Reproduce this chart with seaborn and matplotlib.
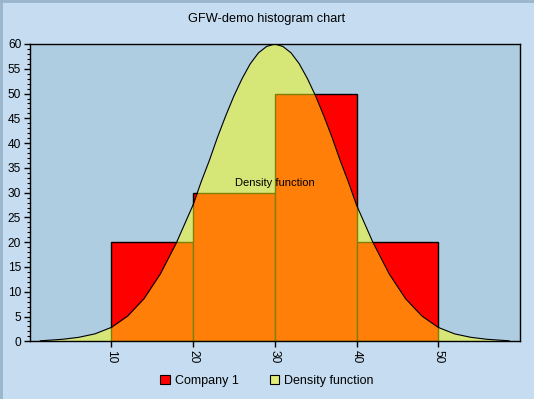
import matplotlib
matplotlib.use("Agg")
import matplotlib.pyplot as plt
from matplotlib.patches import Patch
from matplotlib.lines import Line2D
from matplotlib.ticker import MultipleLocator
import seaborn as sns
import numpy as np

# ---- data ----
bin_edges = [10, 20, 30, 40, 50]
bin_centers = [15, 25, 35, 45]
counts = [20, 30, 50, 20]

dens_x = [1.3, 4, 6, 8, 10, 12, 14, 16, 18, 20, 21, 22, 23, 24, 25, 26, 27, 28, 29, 30,
          31, 32, 33, 34, 35, 36, 37, 38, 39, 40, 42, 44, 46, 48, 50, 52, 54, 56, 58.7]
dens_y = [0.1, 0.4, 0.8, 1.5, 2.8, 5.1, 8.6, 13.6, 20.0, 27.5, 32.2, 36.5, 41.2, 45.5, 49.5,
          53.0, 56.0, 58.2, 59.5, 60.0, 59.5, 58.2, 56.0, 53.0, 49.5, 45.5, 41.2, 36.5, 32.2,
          27.5, 20.0, 13.6, 8.6, 5.1, 2.8, 1.5, 0.8, 0.4, 0.1]

title = "GFW-demo histogram chart"
series_names = ["Company 1", "Density function"]
x_ticks = [10, 20, 30, 40, 50]
y_ticks = list(range(0, 61, 5))

# ---- style ----
sns.set_theme(style="white")
plt.rcParams['font.family'] = ['Liberation Sans', 'DejaVu Sans']
for k in ['text.color', 'axes.labelcolor', 'xtick.color', 'ytick.color', 'axes.edgecolor']:
    plt.rcParams[k] = 'black'

FIG_BG = '#c6dcf0'
AX_BG = '#aecde0'

fig = plt.figure(figsize=(5.34, 3.99), dpi=100, facecolor=FIG_BG)
ax = fig.add_axes([29.5 / 534, 1 - 341.3 / 399, (520 - 29.5) / 534, (341.3 - 44) / 399])
ax.set_facecolor(AX_BG)

sns.histplot(x=bin_centers, weights=counts, bins=bin_edges, color='#ff0000',
             edgecolor='black', linewidth=1.0, alpha=1.0, ax=ax, legend=False)

ax.fill_between(dens_x, dens_y, color='#ffff10', alpha=0.5, linewidth=0, zorder=2)
sns.lineplot(x=dens_x, y=dens_y, color='black', linewidth=0.8, ax=ax, zorder=3)

ax.text(30, 32, "Density function", ha='center', va='center', fontsize=8, color='black', zorder=4)

ax.set_xlim(0, 60)
ax.set_ylim(0, 60)
ax.set_xticks(x_ticks)
ax.set_xticklabels([str(t) for t in x_ticks], rotation=-90, fontsize=8.6, color='black')
ax.set_yticks(y_ticks)
ax.set_yticklabels([str(t) for t in y_ticks], fontsize=8.6, color='black')
ax.yaxis.set_minor_locator(MultipleLocator(1))
ax.tick_params(axis='both', which='major', direction='out', length=4, width=1, color='black',
               pad=2, bottom=True, left=True)
ax.tick_params(axis='y', which='minor', direction='out', length=2, width=0.8, color='black', left=True)
ax.set_xlabel('')
ax.set_ylabel('')
for s in ax.spines.values():
    s.set_visible(True)
    s.set_color('black')
    s.set_linewidth(1)

fig.text(0.5, 1 - 19 / 399, title, ha='center', va='center', fontsize=9.2, color='black')

handles = [Patch(facecolor='#ff0000', edgecolor='black', linewidth=0.8),
           Patch(facecolor='#e2ed78', edgecolor='black', linewidth=0.8)]
leg = fig.legend(handles, series_names, loc='center', bbox_to_anchor=(0.5, 1 - 381 / 399), ncol=2,
                 frameon=False, fontsize=9, handlelength=0.75, handleheight=0.75,
                 handletextpad=0.4, columnspacing=2.5)
for t in leg.get_texts():
    t.set_color('black')

# figure border (top and left darker edge)
fig.add_artist(Line2D([0, 1], [1 - 1 / 399, 1 - 1 / 399], transform=fig.transFigure, color='#98b4cc', linewidth=2))
fig.add_artist(Line2D([1 / 534, 1 / 534], [0, 1], transform=fig.transFigure, color='#98b4cc', linewidth=2))

fig.savefig('out.png', dpi=100, facecolor=FIG_BG)
